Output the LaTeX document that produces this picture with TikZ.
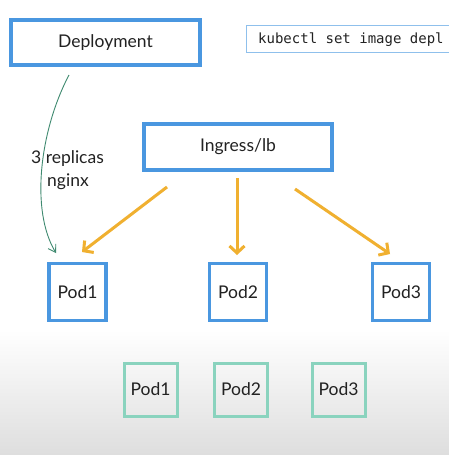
\documentclass[tikz,border=0pt]{standalone}
\usepackage{fontspec}
\setmainfont{Lato}
\setmonofont{DejaVu Sans Mono}
\usetikzlibrary{arrows.meta}
\definecolor{boxblue}{HTML}{4A97E0}
\definecolor{cmdblue}{HTML}{8FC0EC}
\definecolor{arrorange}{HTML}{F0B030}
\definecolor{curvegreen}{HTML}{3F8A70}
\definecolor{podgreen}{HTML}{8AD3BE}
\definecolor{txt}{HTML}{222222}
\begin{document}
\begin{tikzpicture}[x=1pt,y=-1pt,
  bluebox/.style={draw=boxblue,line width=3.2pt,fill=white,inner sep=0pt,text=txt,font=\fontsize{17.5}{20}\selectfont},
  greenbox/.style={draw=podgreen,line width=3pt,inner sep=0pt,text=txt,minimum width=53pt,minimum height=53pt,font=\fontsize{17.5}{20}\selectfont},
  orangearrow/.style={draw=arrorange,line width=3pt,-{Straight Barb[length=7pt,width=15pt,line width=3pt]}},
  greenarrow/.style={draw=curvegreen,line width=0.9pt,-{Straight Barb[length=7pt,width=9pt]}}]
\useasboundingbox (0,0) rectangle (449,455);
\shade[top color=white,bottom color=white] (0,0) rectangle (449,330);
\shade[top color=white,bottom color=black!13] (0,330) rectangle (449,455);
% command box
\begin{scope}
\clip (0,0) rectangle (449,455);
\node[draw=cmdblue,line width=1.3pt,fill=white,minimum width=230pt,minimum height=27pt,anchor=west,inner sep=0pt] (cmd) at (246,39) {};
\node[anchor=west,inner sep=0pt,text=txt,font=\ttfamily\fontsize{14}{16}\selectfont] (cmdtext) at (258,40) {kubectl set image depl};
\end{scope}
\node[bluebox,minimum width=189pt,minimum height=45pt] (dep) at (105.5,42.5) {Deployment};
\node[bluebox,minimum width=188pt,minimum height=46pt] (ing) at (238,147) {Ingress/lb};
\node[bluebox,minimum width=57pt,minimum height=57pt] (p1) at (77.5,292) {Pod1};
\node[bluebox,minimum width=57pt,minimum height=57pt] (p2) at (238,292) {Pod2};
\node[bluebox,minimum width=57pt,minimum height=57pt] (p3) at (401,292) {Pod3};
\node[greenbox] (g1) at (150.5,389.5) {Pod1};
\node[greenbox] (g2) at (241,389.5) {Pod2};
\node[greenbox] (g3) at (338.5,389.5) {Pod3};
\coordinate (cs) at (69,75);
\coordinate (ce) at (56,253);
\draw[greenarrow] (cs) .. controls (40,130) and (30,210) .. (ce);
\node[anchor=west,inner sep=0pt,text=txt,font=\fontsize{17.5}{23}\selectfont,align=left] (lab) at (31,170) {3 replicas\\\hspace*{16pt}nginx};
\coordinate (a1) at (167,187);
\coordinate (a2) at (237,178);
\coordinate (a3) at (295,189);
\draw[orangearrow] (a1) -- (82,252);
\draw[orangearrow] (a2) -- (237,255);
\draw[orangearrow] (a3) -- (390,254);
\end{tikzpicture}
\end{document}
